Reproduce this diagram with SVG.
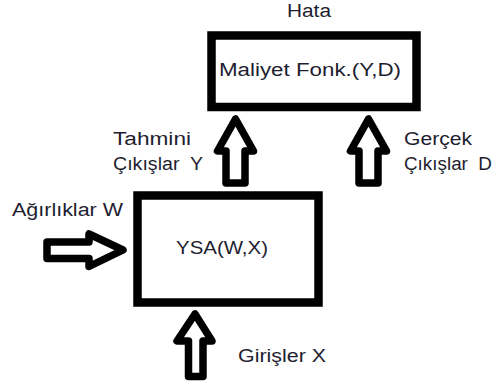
<svg xmlns="http://www.w3.org/2000/svg" width="497" height="385" viewBox="0 0 497 385">
<style>
.box{fill:#fff;stroke:#000;stroke-width:8.5}
.arr{fill:#fff;stroke:#000;stroke-width:7.5;stroke-linejoin:round}
.t{font-family:"Liberation Sans",Arial,sans-serif;font-size:18px;fill:#1e1e30}
</style>
<rect width="497" height="385" fill="#fff"/>
<g id="connectors">
<polygon class="arr" points="235.5,119 217.5,151 226,151 226,183 245,183 245,151 253.5,151"/>
<polygon class="arr" points="368.5,119 350.5,151 359,151 359,183 378,183 378,151 386.5,151"/>
<polygon class="arr" points="123,250 89,234 89,242 47,242 47,258.5 89,258.5 89,266.5"/>
<polygon class="arr" points="195,314 177,341 188.5,341 188.5,376.5 203,376.5 203,341 212,341"/>
</g>
<g id="cost">
<rect class="box" x="211.5" y="35.5" width="205" height="71.5"/>
<text class="t" x="219" y="76" textLength="182" lengthAdjust="spacingAndGlyphs">Maliyet Fonk.(Y,D)</text>
</g>
<g id="ysa">
<rect class="box" x="137.5" y="195.5" width="181" height="107"/>
<text class="t" x="176" y="254" textLength="92" lengthAdjust="spacingAndGlyphs">YSA(W,X)</text>
</g>
<g id="labels">
<text class="t" x="287" y="17" textLength="44" lengthAdjust="spacingAndGlyphs">Hata</text>
<text class="t" x="113" y="145" textLength="78" lengthAdjust="spacingAndGlyphs">Tahmini</text>
<text class="t" x="113" y="170" textLength="90" lengthAdjust="spacingAndGlyphs" xml:space="preserve">Çıkışlar  Y</text>
<text class="t" x="404" y="145" textLength="68" lengthAdjust="spacingAndGlyphs">Gerçek</text>
<text class="t" x="404" y="170" textLength="88" lengthAdjust="spacingAndGlyphs" xml:space="preserve">Çıkışlar  D</text>
<text class="t" x="12" y="216" textLength="111" lengthAdjust="spacingAndGlyphs">Ağırlıklar W</text>
<text class="t" x="238" y="362" textLength="88" lengthAdjust="spacingAndGlyphs">Girişler X</text>
</g>
</svg>
